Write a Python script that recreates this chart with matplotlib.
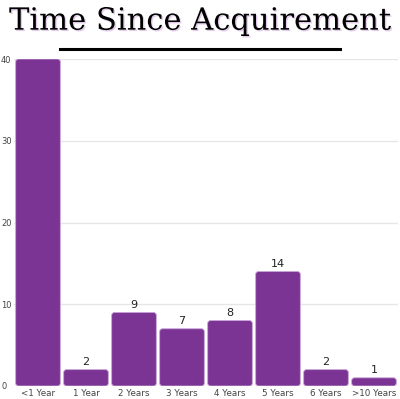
import numpy as np
import matplotlib
matplotlib.use('Agg')
import matplotlib.pyplot as plt
from matplotlib.patches import FancyBboxPatch
import matplotlib.patheffects as pe

CATEGORIES = ["<1 Year", "1 Year", "2 Years", "3 Years", "4 Years", "5 Years", "6 Years", ">10 Years"]
COUNTS = [40, 2, 9, 7, 8, 14, 2, 1]
YTICKS = [0, 10, 20, 30, 40]
BAR_COLOR = "#7b3494"

fig = plt.figure(figsize=(4.0, 3.99), dpi=100)
ax = fig.add_axes([0.035, 0.0326, 0.96, 0.8195])

x = np.arange(len(CATEGORIES))
bars = ax.bar(x, COUNTS, width=0.93, color=BAR_COLOR)

# swap the plain rectangles for rounded ones
for b in bars:
    bx, by = b.get_x(), b.get_y()
    w, h = b.get_width(), b.get_height()
    b.remove()
    rp = FancyBboxPatch((bx, by), w, h, boxstyle="round,pad=0,rounding_size=0.06",
                        mutation_aspect=5.9, facecolor=BAR_COLOR, edgecolor="#c9a3da",
                        linewidth=0.6, zorder=3)
    ax.add_patch(rp)

for xi, v in zip(x[1:], COUNTS[1:]):
    ax.text(xi, v + 0.3, str(v), ha='center', va='bottom', fontsize=8, color='#222222')

ax.set_xlim(-0.5, len(CATEGORIES) - 0.5)
ax.set_ylim(0, 40)
ax.set_xticks(x)
ax.set_xticklabels(CATEGORIES, fontsize=6.3, color='#444444')
ax.set_yticks(YTICKS)
ax.set_yticklabels([str(t) for t in YTICKS], fontsize=6, color='#444444')
ax.tick_params(length=0, pad=2.5)
ax.tick_params(axis='y', pad=1)
for lab in ax.get_yticklabels():
    lab.set_horizontalalignment('left')
    lab.set_x(-0.03)
ax.yaxis.grid(True, color='#e6e6e6', linewidth=1, zorder=0)
ax.set_axisbelow(True)
for s in ax.spines.values():
    s.set_visible(False)

t = fig.text(0.5, 0.947, "Time Since Acquirement", ha='center', va='center',
             fontsize=22, family='DejaVu Serif', color='black')
t.set_path_effects([pe.SimplePatchShadow(offset=(1, -1), shadow_rgbFace='#dcbfe8', alpha=0.8),
                    pe.Normal()])
fig.add_artist(plt.Line2D([0.15, 0.85], [0.877, 0.877], color='black', linewidth=2.2,
                          transform=fig.transFigure))

plt.savefig("out.png", dpi=100)
